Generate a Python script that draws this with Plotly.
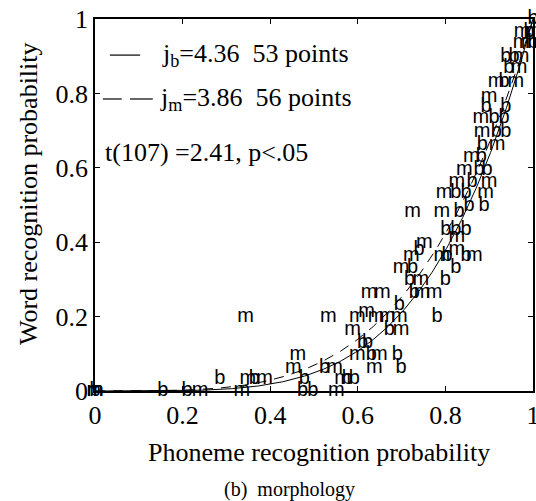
import numpy as np
import plotly.graph_objects as go

# Exponents of the fitted power curves y = x**j
j_b = 4.36
j_m = 3.86

# "b" condition: (phoneme prob, word prob)
b_x = [0.0, 0.155, 0.21, 0.474, 0.497, 0.285, 0.364, 0.478, 0.576, 0.592,
       0.524, 0.699, 0.631, 0.690, 0.611, 0.622, 0.672, 0.781, 0.695, 0.729,
       0.718, 0.80, 0.725, 0.824, 0.804, 0.847, 0.74, 0.801, 0.824, 0.847,
       0.831, 0.854, 0.888, 0.824, 0.847, 0.861, 0.877, 0.895, 0.882, 0.884,
       0.916, 0.938, 0.911, 0.934, 0.893, 0.938, 0.934, 0.945, 0.938, 0.957,
       0.991, 1.0, 1.0]
b_y = [0.0, 0.0, 0.0, 0.0, 0.0, 0.031, 0.031, 0.031, 0.031, 0.031,
       0.061, 0.061, 0.097, 0.097, 0.13, 0.13, 0.164, 0.20, 0.231, 0.264,
       0.298, 0.298, 0.33, 0.33, 0.363, 0.363, 0.379, 0.433, 0.433, 0.433,
       0.48, 0.497, 0.497, 0.532, 0.532, 0.562, 0.594, 0.594, 0.629, 0.661,
       0.696, 0.696, 0.734, 0.734, 0.763, 0.763, 0.831, 0.868, 0.898, 0.898,
       0.965, 0.935, 1.0]

# "m" condition
m_x = [0.0, 0.0, 0.0, 0.24, 0.335, 0.551, 0.349, 0.387, 0.565, 0.453,
       0.547, 0.638, 0.463, 0.599, 0.649, 0.588, 0.699, 0.344, 0.533, 0.599,
       0.642, 0.667, 0.695, 0.62, 0.626, 0.656, 0.747, 0.774, 0.744, 0.699,
       0.722, 0.792, 0.866, 0.826, 0.752, 0.826, 0.725, 0.792, 0.797, 0.892,
       0.826, 0.90, 0.843, 0.859, 0.918, 0.884, 0.881, 0.90, 0.916, 0.961,
       0.968, 0.973, 0.973, 0.991, 0.975, 1.0]
m_y = [0.0, 0.0, 0.0, 0.0, 0.0, 0.0, 0.031, 0.031, 0.031, 0.061,
       0.061, 0.061, 0.097, 0.097, 0.097, 0.164, 0.164, 0.20, 0.20, 0.20,
       0.20, 0.20, 0.20, 0.212, 0.264, 0.264, 0.264, 0.264, 0.298, 0.33,
       0.363, 0.363, 0.363, 0.379, 0.397, 0.414, 0.48, 0.48, 0.532, 0.532,
       0.562, 0.562, 0.594, 0.629, 0.661, 0.696, 0.734, 0.79, 0.831, 0.831,
       0.868, 0.898, 0.935, 0.935, 0.965, 0.965]

tick_vals = [0, 0.2, 0.4, 0.6, 0.8, 1]
tick_text = ["0", "0.2", "0.4", "0.6", "0.8", "1"]

serif = "Liberation Serif"
sans = "Liberation Sans"

xs = np.linspace(0, 1, 300)

fig = go.Figure()
fig.add_trace(go.Scatter(x=xs, y=xs ** j_b, mode="lines",
                         line=dict(color="black", width=1), hoverinfo="skip"))
fig.add_trace(go.Scatter(x=xs, y=xs ** j_m, mode="lines",
                         line=dict(color="black", width=1, dash="10px,8px"),
                         hoverinfo="skip"))
fig.add_trace(go.Scatter(x=b_x, y=b_y, mode="text", text=["b"] * len(b_x),
                         textposition="middle center", cliponaxis=False,
                         textfont=dict(family=sans, size=20, color="black")))
fig.add_trace(go.Scatter(x=m_x, y=m_y, mode="text", text=["m"] * len(m_x),
                         textposition="middle center", cliponaxis=False,
                         textfont=dict(family=sans, size=20, color="black")))

axis_common = dict(range=[0, 1], tickvals=tick_vals, ticktext=tick_text,
                   ticks="inside", ticklen=5, tickcolor="black", tickwidth=1,
                   showline=True, linecolor="black", linewidth=1.5,
                   mirror="ticks", showgrid=False, zeroline=False,
                   ticklabeloverflow="allow", automargin=False,
                   tickfont=dict(family=serif, size=26, color="black"))

fig.update_layout(
    width=536, height=501,
    margin=dict(l=95, r=3, t=19, b=110, autoexpand=False),
    paper_bgcolor="white", plot_bgcolor="white",
    showlegend=False,
    xaxis=axis_common,
    yaxis=axis_common,
)

# Legend drawn by hand: line samples and labels
fig.add_shape(type="line", xref="paper", yref="paper", x0=0.034, x1=0.103,
              y0=0.903, y1=0.903, line=dict(color="black", width=1.2))
fig.add_shape(type="line", xref="paper", yref="paper", x0=0.018, x1=0.061,
              y0=0.785, y1=0.785, line=dict(color="black", width=1.2))
fig.add_shape(type="line", xref="paper", yref="paper", x0=0.080, x1=0.132,
              y0=0.785, y1=0.785, line=dict(color="black", width=1.2))

def label(text, x, y, size=26, xanchor="left", textangle=0):
    fig.add_annotation(text=text, xref="paper", yref="paper", x=x, y=y,
                       xanchor=xanchor, yanchor="middle", showarrow=False,
                       textangle=textangle,
                       font=dict(family=serif, size=size, color="black"))

label("j<sub>b</sub>=4.36  53 points", 0.148, 0.903)
label("j<sub>m</sub>=3.86  56 points", 0.144, 0.785)
label("t(107) =2.41, p&lt;.05", 0.018, 0.64)
label("Phoneme recognition probability", 0.511, -0.164, xanchor="center")
label("Word recognition probability", -0.153, 0.532, xanchor="center", textangle=-90)
label("(b)  morphology", 0.444, -0.266, size=20, xanchor="center")

fig.write_html("out.html")
